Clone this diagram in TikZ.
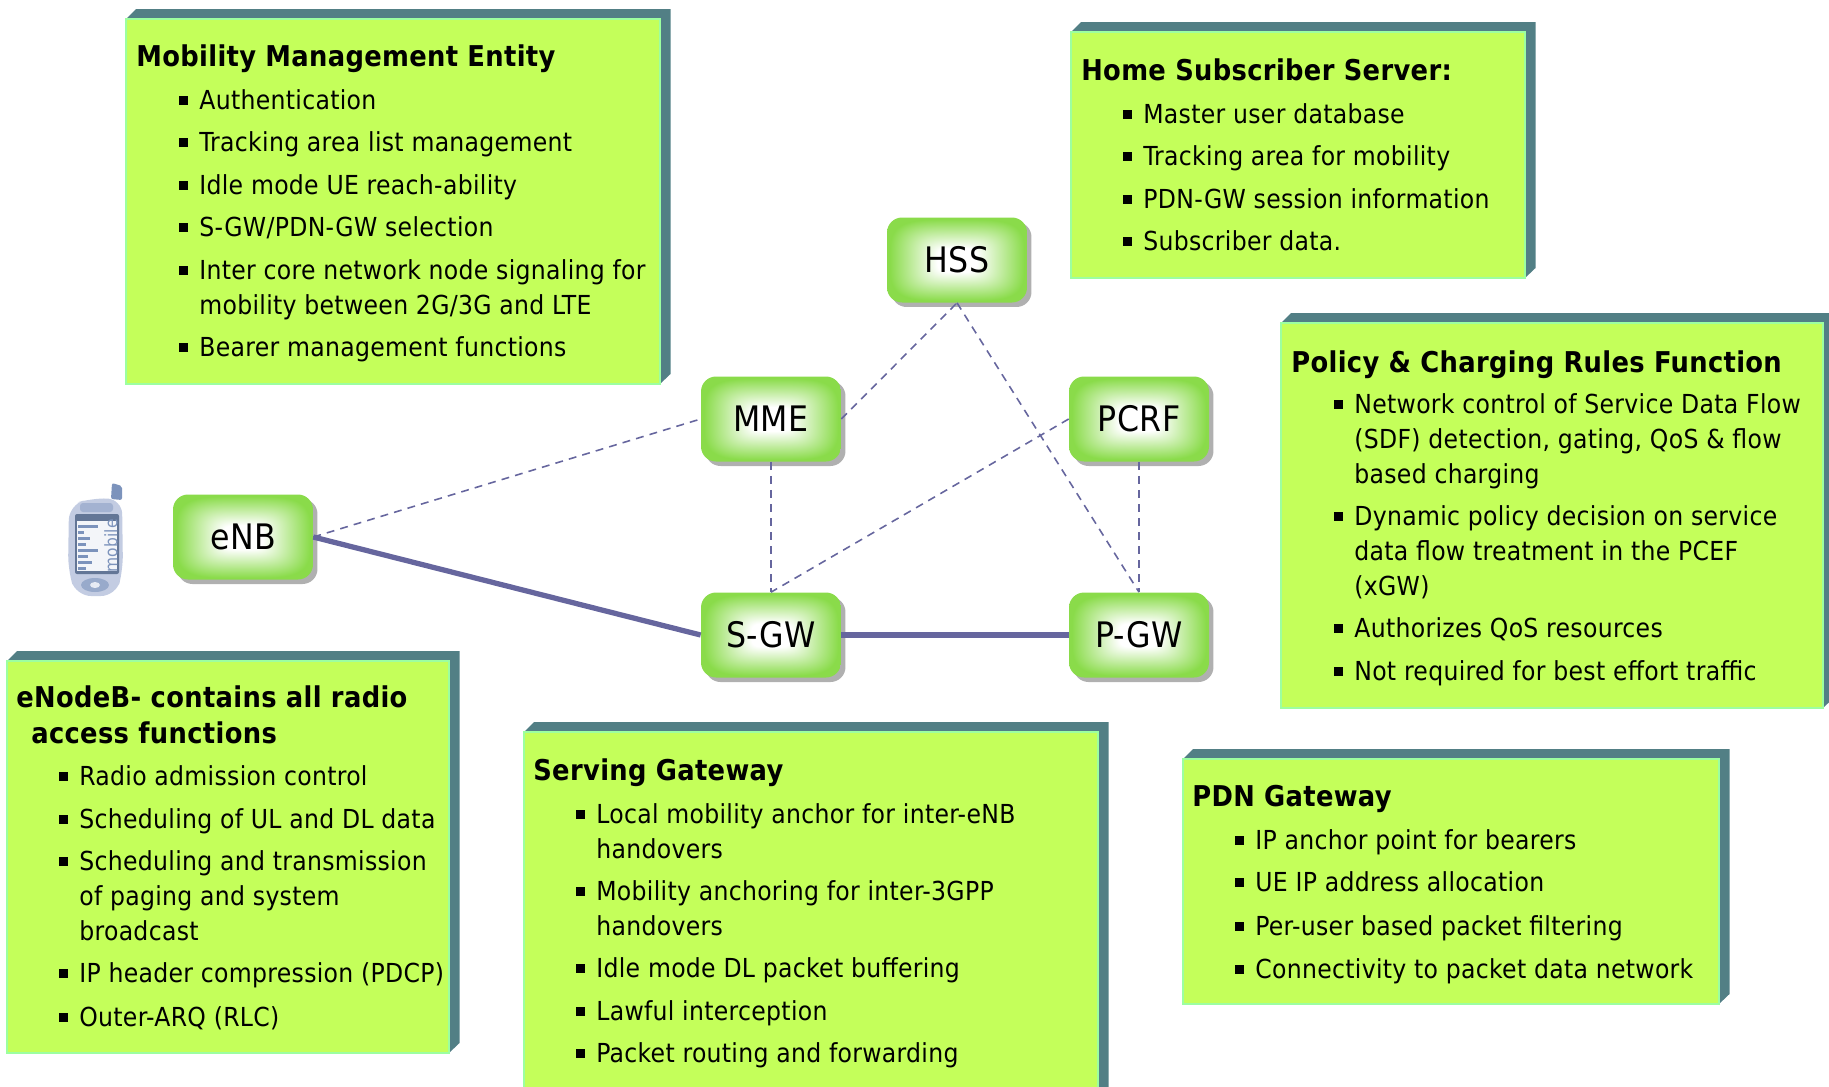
\documentclass[tikz,border=0pt]{standalone}
\usepackage{fontspec}
\setmainfont{DejaVu Sans Condensed}[LetterSpace=1.2]
\usetikzlibrary{shadows}
\definecolor{boxfill}{HTML}{C4FF5A}
\definecolor{boxedge}{HTML}{9CFFA0}
\definecolor{boxside}{HTML}{527F85}
\definecolor{linkcol}{HTML}{66669E}
\definecolor{shadecol}{HTML}{B0B0B0}
\definecolor{phonecol}{HTML}{C3CCE2}
\definecolor{phonedark}{HTML}{7C93BC}
\pgfdeclarefunctionalshading{boxglow}{\pgfpoint{-50bp}{-50bp}}{\pgfpoint{50bp}{50bp}}{}{
    abs dup mul dup mul exch abs dup mul dup mul add sqrt sqrt
    7 sub 17 div dup 0 lt {pop 0} if dup 1 gt {pop 1} if
    dup 0.46 mul 1 exch sub exch dup 0.14 mul 1 exch sub exch 0.71 mul 1 exch sub
}
\newcommand{\bul}{\strut\llap{\raisebox{.3ex}{\rule{5.2pt}{5.2pt}}\hspace{6.6pt}}}
\newcommand{\infobox}[4]{
    \fill[boxside] (#1,#2) -- ++(10,-10) -- (#3+10.5,#2-10) -- (#3+10.5,#4-10) -- (#3,#4) -- cycle;
    \draw[boxedge, line width=1.2pt, fill=boxfill] (#1,#2) rectangle (#3,#4);
}
\tikzset{
    gwbox/.style={rounded corners=.3cm, minimum width=2.8cm, minimum height=1.7cm, inner sep=0pt,
        shading=boxglow, drop shadow={fill=shadecol, opacity=1, shadow xshift=.09cm, shadow yshift=-.09cm},
        font=\fontsize{20}{24}\selectfont},
    boxtitle/.style={anchor=base west, inner sep=0pt, align=left, font=\fontsize{16.3}{20}\selectfont\bfseries},
    boxitem/.style={anchor=base west, inner sep=0pt, yshift=.01cm, align=left, font=\fontsize{14.9}{19.9}\selectfont},
    sigline/.style={linkcol, dash pattern=on 4.5pt off 3.5pt, line width=.9pt},
    dataline/.style={linkcol, line width=3pt}
}
\begin{document}
\begin{tikzpicture}[x=.02cm, y=-.02cm]
    \useasboundingbox (0,0) rectangle (1829,1086);

    % info boxes
    \infobox{126}{19}{660}{384}
    \infobox{1071}{32}{1525}{278}
    \infobox{1281}{323}{1823}{708}
    \infobox{7}{661}{449}{1053}
    \infobox{524}{732}{1098}{1110}
    \infobox{1183}{759}{1719}{1004}

    \node[boxtitle] (mmetitle) at (136,66) {Mobility Management Entity};
    \foreach \y/\t [count=\i] in {110/Authentication, 152/Tracking area list management,
        195/Idle mode UE reach-ability, 237/{S-GW/PDN-GW selection},
        315/{Inter core network node signaling for\\mobility between 2G/3G and LTE},
        357/Bearer management functions}
        \node[boxitem] (mme\i) at (199,\y) {\bul\t};

    \node[boxtitle] (hsstitle) at (1081,80) {Home Subscriber Server:};
    \foreach \y/\t [count=\i] in {124/Master user database, 166/Tracking area for mobility,
        209/PDN-GW session information, 251/Subscriber data.}
        \node[boxitem] (hss\i) at (1143,\y) {\bul\t};

    \node[boxtitle] (pcrftitle) at (1291,372) {Policy \& Charging Rules Function};
    \foreach \y/\t [count=\i] in {484/{Network control of Service Data Flow\\(SDF) detection, gating, QoS \& flow\\based charging},
        596/{Dynamic policy decision on service\\data flow treatment in the PCEF\\(xGW)},
        638/Authorizes QoS resources, 681/Not required for best effort traffic}
        \node[boxitem] (pcrf\i) at (1354,\y) {\bul\t};

    \node[boxtitle] (enbtitle) at (16,743) {eNodeB- contains all radio\\\hspace{8.5pt}access functions};
    \foreach \y/\t [count=\i] in {786/Radio admission control, 829/Scheduling of UL and DL data,
        941/{Scheduling and transmission\\of paging and system\\broadcast},
        983/IP header compression (PDCP), 1027/Outer-ARQ (RLC)}
        \node[boxitem] (enb\i) at (79,\y) {\bul\t};

    \node[boxtitle] (sgwtitle) at (533,780) {Serving Gateway};
    \foreach \y/\t [count=\i] in {859/{Local mobility anchor for inter-eNB\\handovers},
        936/{Mobility anchoring for inter-3GPP\\handovers},
        978/Idle mode DL packet buffering, 1021/Lawful interception, 1063/Packet routing and forwarding}
        \node[boxitem] (sgw\i) at (596,\y) {\bul\t};

    \node[boxtitle] (pgwtitle) at (1192,806) {PDN Gateway};
    \foreach \y/\t [count=\i] in {850/IP anchor point for bearers, 892/UE IP address allocation,
        936/Per-user based packet filtering, 979/Connectivity to packet data network}
        \node[boxitem] (pgw\i) at (1255,\y) {\bul\t};

    % network nodes
    \node[gwbox] (HSS) at (957,260) {HSS};
    \node[gwbox] (MME) at (771,419) {MME};
    \node[gwbox] (PCRF) at (1139,419) {PCRF};
    \node[gwbox] (SGW) at (771,635) {S-GW};
    \node[gwbox] (PGW) at (1139,635) {P-GW};
    \node[gwbox] (ENB) at (243,537) {eNB};

    \draw[sigline] (ENB.east) -- (MME.west);
    \draw[sigline] (MME.east) -- (HSS.south);
    \draw[sigline] (HSS.south) -- (PGW.north);
    \draw[sigline] (PCRF.west) -- (SGW.north);
    \draw[sigline] (MME.south) -- (SGW.north);
    \draw[sigline] (PCRF.south) -- (PGW.north);
    \draw[dataline] (ENB.east) -- (SGW.west);
    \draw[dataline] (SGW.east) -- (PGW.west);

    % phone
    \fill[phonedark, rounded corners=.04cm] (111,499) -- (112,483) -- (122,486) -- (122,500) -- cycle;
    \fill[phonecol, rounded corners=.3cm] (69,505) -- (92,498) -- (122,499) -- (123,570) -- (116,596) -- (76,596) -- (68,570) -- cycle;
    \fill[phonedark!45!phonecol, rounded corners=.06cm] (80,503) rectangle (113,512);
    \fill[phonedark!80!black, rounded corners=.04cm] (75,514) rectangle (119,574);
    \fill[white!80!phonecol] (77,521) rectangle (117,571);
    \foreach \y/\w [count=\i] in {525/20, 531/6, 537/12, 543/8, 549/20, 555/10, 561/14, 567/8}
        \fill[phonedark] (78,\y) rectangle ++(\w,2.5);
    \node[rotate=90, text=phonedark, inner sep=0pt, font=\fontsize{9.8}{10}\selectfont] (phonetext) at (111,546) {mobile};
    \fill[phonedark!60!phonecol] (95,585) ellipse (14 and 7);
    \fill[phonecol!40!white] (95,585) ellipse (5 and 3);
\end{tikzpicture}
\end{document}
